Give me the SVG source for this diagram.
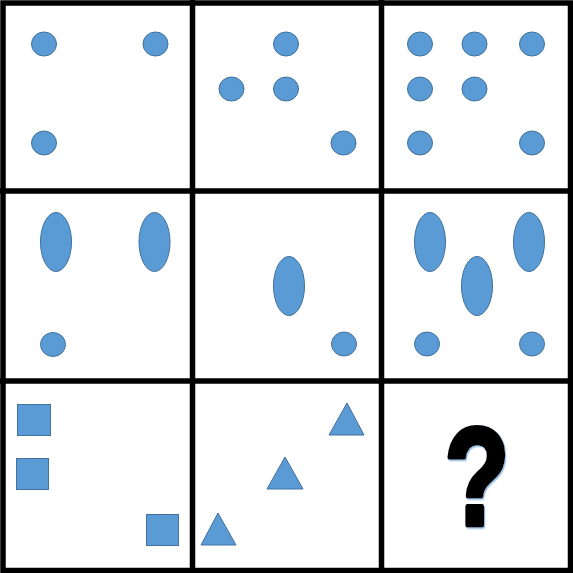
<svg xmlns="http://www.w3.org/2000/svg" width="573" height="573" viewBox="0 0 573 573">
<style>
.s{fill:#5B9BD5;stroke:#41719C;stroke-width:1}
.g{stroke:#000;stroke-width:5.5;fill:none}
.q{font-family:"Liberation Sans",Arial,sans-serif;font-weight:bold;font-size:140px;text-anchor:middle;stroke:#000;stroke-width:5;stroke-linejoin:round}
</style>
<defs>
<filter id="sh" x="-20%" y="-20%" width="140%" height="140%">
<feDropShadow dx="1.5" dy="1.5" stdDeviation="0.6" flood-color="#9DC3E6" flood-opacity="1"/>
</filter>
</defs>
<rect width="573" height="573" fill="#fff"/>
<g id="grid">
<rect class="g" x="3" y="3" width="567.5" height="567.5"/>
<line class="g" x1="192.5" y1="0" x2="192.5" y2="573"/>
<line class="g" x1="381.5" y1="0" x2="381.5" y2="573"/>
<line class="g" x1="0" y1="191" x2="573" y2="191"/>
<line class="g" x1="0" y1="381" x2="573" y2="381"/>
</g>
<g id="cell1">
<ellipse class="s" cx="44" cy="44" rx="12.5" ry="12"/>
<ellipse class="s" cx="155.5" cy="44" rx="12.5" ry="12"/>
<ellipse class="s" cx="44" cy="143" rx="12.5" ry="12"/>
</g>
<g id="cell2">
<ellipse class="s" cx="286" cy="44" rx="12.5" ry="12"/>
<ellipse class="s" cx="231.5" cy="89" rx="12.5" ry="12"/>
<ellipse class="s" cx="286" cy="89" rx="12.5" ry="12"/>
<ellipse class="s" cx="343.5" cy="143" rx="12.5" ry="12"/>
</g>
<g id="cell3">
<ellipse class="s" cx="420" cy="44" rx="12.5" ry="12"/>
<ellipse class="s" cx="474.5" cy="44" rx="12.5" ry="12"/>
<ellipse class="s" cx="532" cy="44" rx="12.5" ry="12"/>
<ellipse class="s" cx="420" cy="89" rx="12.5" ry="12"/>
<ellipse class="s" cx="474.5" cy="89" rx="12.5" ry="12"/>
<ellipse class="s" cx="420" cy="143" rx="12.5" ry="12"/>
<ellipse class="s" cx="532" cy="143" rx="12.5" ry="12"/>
</g>
<g id="cell4">
<ellipse class="s" cx="56" cy="242" rx="15.5" ry="29.5"/>
<ellipse class="s" cx="154.5" cy="242" rx="15.5" ry="29.5"/>
<ellipse class="s" cx="53" cy="344.5" rx="12.5" ry="12"/>
</g>
<g id="cell5">
<ellipse class="s" cx="289" cy="286" rx="15.5" ry="29.5"/>
<ellipse class="s" cx="344" cy="344" rx="12.5" ry="12"/>
</g>
<g id="cell6">
<ellipse class="s" cx="430" cy="242" rx="15.5" ry="29.5"/>
<ellipse class="s" cx="529" cy="242" rx="15.5" ry="29.5"/>
<ellipse class="s" cx="477" cy="286" rx="15.5" ry="29.5"/>
<ellipse class="s" cx="427" cy="344" rx="12.5" ry="12"/>
<ellipse class="s" cx="532" cy="344" rx="12.5" ry="12"/>
</g>
<g id="cell7">
<rect class="s" x="17.5" y="404.5" width="33" height="31"/>
<rect class="s" x="16.5" y="458.5" width="32" height="31"/>
<rect class="s" x="146.5" y="514.5" width="32" height="31"/>
</g>
<g id="cell8">
<polygon class="s" points="347,403 364,435 329,435"/>
<polygon class="s" points="285,457 303,489 267,489"/>
<polygon class="s" points="218,513 236,545 201,545"/>
</g>
<g id="cell9">
<text class="q" transform="translate(477,525) scale(0.76,1)" x="0" y="0" fill="#000" filter="url(#sh)">?</text>
</g>
</svg>
